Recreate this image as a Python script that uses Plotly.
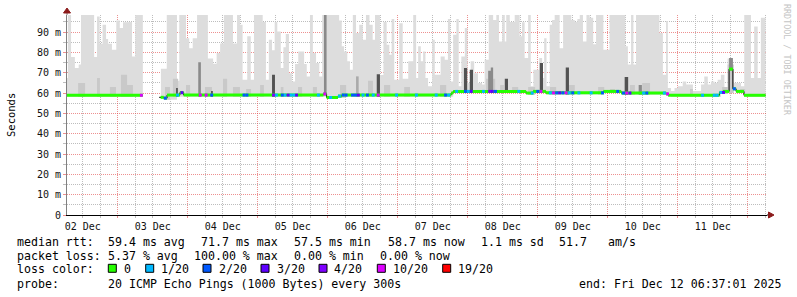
import plotly.graph_objects as go
from datetime import datetime, timedelta

START = datetime(2025, 12, 2, 6, 37, 1)
END = datetime(2025, 12, 12, 6, 37, 1)
DATA_END_H = 239.5

# ---- smoke envelope (slowest ping), segment start in hours after START ----
smoke_h = [0.0,0.3,1.4,2.7,4.0,4.8,9.3,10.3,11.2,12.2,
           13.4,14.1,15.4,16.9,18.1,19.2,20.6,22.3,23.4,26.0,
           32.2,34.2,37.7,38.5,40.8,41.9,43.1,44.6,48.3,50.1,
           51.3,52.5,53.8,56.9,58.3,59.3,60.2,61.8,63.0,64.1,
           67.1,68.2,69.2,70.3,71.2,72.1,73.3,74.2,75.0,76.1,
           77.1,78.2,79.3,81.3,82.2,83.3,84.3,85.4,86.5,87.5,
           93.3,94.2,95.0,96.1,97.0,98.0,99.1,100.2,101.4,102.5,
           103.7,104.8,105.6,107.3,108.5,109.6,110.5,111.3,112.2,113.9,
           115.1,117.0,118.7,119.7,120.4,121.3,122.1,122.9,123.8,125.2,
           126.1,128.1,129.5,130.6,131.4,132.4,133.5,134.3,135.2,136.4,
           137.3,138.4,139.6,140.9,142.3,143.2,144.6,146.1,147.2,148.1,
           149.2,150.1,150.6,151.8,153.5,155.2,156.0,156.9,158.1,159.0,
           159.9,161.9,162.9,163.6,164.4,165.5,166.3,167.2,168.9,170.1,
           172.9,174.1,175.0,175.8,176.9,178.1,179.2,180.4,181.4,183.9,
           186.0,191.4,192.3,193.4,194.2,195.1,203.1,204.3,205.4,206.0,
           207.1,208.3,209.4,211.1,212.3,214.6,217.4,218.5,219.7,220.8,
           222.0,223.1,224.2,225.4,226.5,228.3,231.1,232.2,234.5,235.6,
           236.8,237.9]
smoke_top = [67.4,98.5,77.7,72.3,74,98.5,77.7,97.7,84.3,93.6,
             86.6,84.3,81.3,95.7,92,94.8,95,78,98.5,None,
             72,98.5,66,98.5,87,82,87,98.5,77,74.4,
             79.7,84.4,98.5,84.4,98.5,93.6,66.6,87.9,66.6,98.5,
             95,66.6,86.2,81,95,90.3,72.3,82.5,89,69.8,
             65.7,74.3,80.5,74.3,68.2,98.5,79.7,74.8,68.2,98.5,
             95.7,83,80.5,75.6,71.5,98.5,89.5,93.6,86.2,98.5,
             93.6,86.2,98.5,68.9,95,83.8,78.9,96.4,66.6,94.4,
             67,75.6,98.5,67.4,83,75.6,80.5,67.4,63.3,86.2,
             69,78,76.4,96.4,65.7,88.7,96.4,63.3,78,92,
             65,75.6,69.8,65,64.2,76.4,98.5,96,98.5,85.4,
             98.5,85.4,98.5,95,98.5,87.9,94.8,77.2,98.5,63.3,
             71.5,77.2,67.4,87,63.3,93.6,96,98.5,82,98.5,
             96,95,96.4,98.5,85.4,98.5,97,84,98.5,81.3,
             98.5,83,74,98.5,74,98.5,89.5,69,95.5,62.5,
             61,62.5,63.3,65.7,64.2,61,64.2,68.2,64.2,65.7,
             65,66.6,69,62.5,77,65,63.3,98.5,67.4,92.8,
             67.4,97]

# denser smoke near the median (start h, end h, top ms)
mid_h0 = [3.8,10.3,14.7,18.5,20.6,33.6,36.3,40.8,47.3,53.5,56.9,61.4,66.2,73.3,79.2,84.3,
          93.6,103.2,108.7,115.6,127.9,143.7,148.5,152.6,158.1,165.6,172.1,182.1,186.2,
          193.0,197.2,213.6,224.6,226.5,230.8]
mid_h1 = [6.2,11.3,16.8,20.6,22.6,35.3,38.1,42.2,49.7,54.9,59.3,63.1,67.5,74.2,80.6,85.7,
          95.7,104.9,110.8,117.6,130.0,146.8,149.8,154.7,160.5,167.7,174.1,184.2,187.9,
          194.7,199.9,214.6,226.6,228.6,232.5]
mid_top = [65,67.4,63,69,64,63,67,64,63,67,63,62,64,63,63,63,
           64,66,64,63,64,67,64,63,63,63,64,63,62,
           64,65,62,63,74,62]

# dark smoke columns (start h, end h, top ms, density class)
spike_h0 = [37.4,45.0,49.4,70.3,88.1,99.1,106.2,136.1,138.1,144.4,145.3,150.1,162.1,171.0,191.2,196.0,227.0]
spike_h1 = [38.0,45.9,50.0,71.3,89.0,100.0,107.3,137.2,139.2,145.3,146.1,151.2,163.2,172.1,192.4,197.1,228.3]
spike_top = [62.5,75.2,61,69,98.5,68.2,69.3,72.3,71.5,71,72.6,67,74.8,72.6,67.9,64,77.2]
spike_kind = ['dark','medium','dark','dark','medium','light','dark','dark','dark','medium','medium',
              'dark','dark','dark','dark','medium','medium']

# ---- median rtt (ms), segment start in hours ----
median_h = [0.0,26.0,31.6,33.2,34.3,38.7,40.0,87.9,89.0,92.9,94.2,131.7,132.4,157.4,159.8,
            164.2,183.9,190.0,205.4,206.1,223.7,224.9,227.0,228.3,229.4,232.1]
median_ms = [58.9,None,57.9,57.5,59.0,60.2,59.0,59.6,57.8,58.5,59.0,60.0,60.8,60.0,60.8,
             60.1,60.8,60.0,59.6,58.9,60.3,60.8,71.8,62.1,60.8,58.9]

# ---- packet loss (pings lost out of 20), hour of bin ----
loss_h = [25.0,33.2,37.4,38.9,45.2,47.2,49.1,60.2,61.2,70.3,71.3,73.3,74.2,75.3,76.2,77.2,78.2,
          85.7,87.9,89.9,92.9,94.2,95.2,97.4,98.4,99.4,101.0,102.5,104.5,106.2,112.5,119.3,
          126.1,129.3,130.4,133.1,136.1,137.1,138.1,142.3,144.4,145.3,146.4,154.4,159.0,160.9,
          162.0,165.2,166.3,167.4,168.4,169.5,170.6,171.7,172.9,175.0,179.2,183.1,188.3,190.3,
          191.4,192.5,197.2,198.3,204.3,205.4,217.4,221.4,222.4,223.7,224.6,228.3]
loss_n = [10,2,1,3,10,10,2,2,2,4,1,2,1,3,1,1,3,
          1,10,1,1,2,2,2,2,3,1,2,1,10,1,1,
          1,2,1,1,2,1,3,1,4,3,2,1,1,2,
          10,1,10,2,3,2,10,1,2,1,1,2,2,2,
          10,3,1,2,1,10,1,1,1,1,3,2]

loss_labels = ['0','1/20','2/20','3/20','4/20','10/20','19/20']
loss_levels = [0,1,2,3,4,10,19]
loss_colors = ['#26ff00','#00b8ff','#0059ff','#5e00ff','#7e00ff','#dd00ff','#ff0000']

rtt_legend = ['median rtt:','59.4 ms avg','71.7 ms max','57.5 ms min','58.7 ms now','1.1 ms sd','51.7','am/s']
loss_legend = ['packet loss:','5.37 % avg','100.00 % max','0.00 % min','0.00 % now']
probe_legend = ['probe:','20 ICMP Echo Pings (1000 Bytes) every 300s','end: Fri Dec 12 06:37:01 2025']

# ---------------------------------------------------------------------------
def T(h):
    return START + timedelta(hours=h)

def median_at(h):
    v = None
    for s, m in zip(median_h, median_ms):
        if s <= h + 1e-9:
            v = m
    return v

def loss_color(n):
    c = loss_colors[0]
    for lv, col in zip(loss_levels, loss_colors):
        if n >= lv:
            c = col
    return c

fig = go.Figure()

# main smoke polygons (one per contiguous run)
segs = []
for i, (s, top) in enumerate(zip(smoke_h, smoke_top)):
    e = smoke_h[i + 1] if i + 1 < len(smoke_h) else DATA_END_H
    segs.append((s, e, top))
runs, cur = [], []
for s, e, top in segs:
    if top is None:
        if cur:
            runs.append(cur)
        cur = []
    else:
        cur.append((s, e, top))
if cur:
    runs.append(cur)
px, py = [], []
for run in runs:
    for s, e, top in run:
        px += [T(s), T(e)]
        py += [top, top]
    for s, e, top in reversed(run):
        b = (median_at(s) or 59) - 0.8
        px += [T(e), T(s)]
        py += [b, b]
    px.append(None); py.append(None)
fig.add_trace(go.Scatter(x=px, y=py, fill='toself', fillcolor='#dddddd', mode='lines',
                         line=dict(width=0, color='#dddddd'), hoverinfo='skip', showlegend=False))

def rect_trace(h0s, h1s, tops, color):
    xs, ys = [], []
    for a, b, top in zip(h0s, h1s, tops):
        base = (median_at(a) or 59) - 0.8
        xs += [T(a), T(b), T(b), T(a), T(a), None]
        ys += [base, base, top, top, base, None]
    return go.Scatter(x=xs, y=ys, fill='toself', fillcolor=color, mode='lines',
                      line=dict(width=0, color=color), hoverinfo='skip', showlegend=False)

fig.add_trace(rect_trace(mid_h0, mid_h1, mid_top, '#c9c9c9'))
shade = {'light': '#aaaaaa', 'medium': '#8a8a8a', 'dark': '#525252'}
for kind in ['light', 'medium', 'dark']:
    idx = [i for i, k in enumerate(spike_kind) if k == kind]
    fig.add_trace(rect_trace([spike_h0[i] for i in idx], [spike_h1[i] for i in idx],
                             [spike_top[i] for i in idx], shade[kind]))

# median: thin black connector line
bx, by = [], []
for i, (s, m) in enumerate(zip(median_h, median_ms)):
    e = median_h[i + 1] if i + 1 < len(median_h) else DATA_END_H
    if m is None:
        bx.append(None); by.append(None)
        continue
    bx += [T(s), T(e)]
    by += [m, m]
fig.add_trace(go.Scatter(x=bx, y=by, mode='lines', line=dict(color='#000000', width=1),
                         hoverinfo='skip', showlegend=False))
# median: green (no loss) thick segments
gx, gy = [], []
for i, (s, m) in enumerate(zip(median_h, median_ms)):
    e = median_h[i + 1] if i + 1 < len(median_h) else DATA_END_H
    if m is None:
        continue
    if s == 31.6:
        s = 32.1
    gx += [T(s), T(e), None]
    gy += [m, m, None]
fig.add_trace(go.Scatter(x=gx, y=gy, mode='lines', line=dict(color=loss_colors[0], width=3),
                         hoverinfo='skip', showlegend=False))
# loss-coloured segments
for col in loss_colors[1:]:
    lx, ly = [], []
    for h, n in zip(loss_h, loss_n):
        if loss_color(n) != col:
            continue
        m = median_at(h)
        lx += [T(h), T(h + 1.0), None]
        ly += [m, m, None]
    if lx:
        fig.add_trace(go.Scatter(x=lx, y=ly, mode='lines', line=dict(color=col, width=3),
                                 hoverinfo='skip', showlegend=False))

# ---------------------------------------------------------------------------
L, R, TOP, B = 67, 30, 15, 82
W, H = 797, 297
PW, PH = W - L - R, H - TOP - B

def pxx(x):
    return (x - L) / PW

def pyy(y):
    return (H - B - y) / PH

MONO = 'DejaVu Sans Mono'
red_grid = 'rgba(225,70,70,0.6)'
grey_grid = '#bdbdbd'

yvals = [0, 10, 20, 30, 40, 50, 60, 70, 80, 90]
ytext = ['0'] + ['%d m' % v for v in yvals[1:]]

fig.update_layout(
    width=W, height=H, margin=dict(l=L, r=R, t=TOP, b=B),
    paper_bgcolor='#ffffff', plot_bgcolor='#ffffff', showlegend=False,
    xaxis=dict(type='date', range=[START, END], tick0='2025-12-02', dtick=86400000,
               tickformat='%d %b', ticklabelmode='period',
               showgrid=True, gridcolor=red_grid, griddash='1px,1px', gridwidth=1,
               showline=True, linecolor='#000000', linewidth=1, zeroline=False,
               ticks='outside', ticklen=2, tickcolor=red_grid,
               tickfont=dict(family=MONO, size=10, color='#111111'),
               minor=dict(dtick=21600000, tick0='2025-12-02', showgrid=True,
                          gridcolor=grey_grid, griddash='1px,1px', ticks='outside',
                          ticklen=2, tickcolor=grey_grid),
               fixedrange=True),
    yaxis=dict(range=[0, 98.4], tickmode='array', tickvals=yvals, ticktext=ytext,
               showgrid=True, gridcolor=red_grid, griddash='1px,1px', gridwidth=1,
               showline=True, linecolor='#808080', linewidth=1, zeroline=False,
               ticks='outside', ticklen=3, tickcolor=red_grid,
               tickfont=dict(family=MONO, size=10, color='#111111'),
               minor=dict(tickmode='array', tickvals=[5, 15, 25, 35, 45, 55, 65, 75, 85, 95],
                          showgrid=True, gridcolor=grey_grid, griddash='1px,1px',
                          ticks='outside', ticklen=3, tickcolor=grey_grid),
               fixedrange=True),
)

shapes = []
dark_red = '#8b1a1a'
# y-axis extension + arrow
shapes.append(dict(type='line', xref='paper', yref='paper', x0=pxx(67), x1=pxx(67),
                   y0=pyy(15), y1=pyy(12), line=dict(color='#808080', width=1)))
shapes.append(dict(type='path', xref='paper', yref='paper', fillcolor=dark_red,
                   line=dict(color=dark_red, width=1),
                   path='M %f,%f L %f,%f L %f,%f Z' % (pxx(67), pyy(8), pxx(63.5), pyy(13),
                                                       pxx(70.5), pyy(13))))
# x-axis extension + arrow
shapes.append(dict(type='line', xref='paper', yref='paper', x0=pxx(767), x1=pxx(769),
                   y0=pyy(215), y1=pyy(215), line=dict(color='#000000', width=1)))
shapes.append(dict(type='path', xref='paper', yref='paper', fillcolor=dark_red,
                   line=dict(color=dark_red, width=1),
                   path='M %f,%f L %f,%f L %f,%f Z' % (pxx(774), pyy(215), pxx(768.5), pyy(212),
                                                       pxx(768.5), pyy(218))))

annotations = []

def label(x, y, text, size=11.6, color='#000000', angle=0, anchor='left'):
    annotations.append(dict(xref='paper', yref='paper', x=pxx(x), y=pyy(y), text=text,
                            showarrow=False, xanchor=anchor, yanchor='middle', textangle=angle,
                            borderpad=0, font=dict(family=MONO, size=size, color=color)))

label(11, 115, 'Seconds', size=10.5, anchor='center', angle=-90)
label(787, 60, 'RRDTOOL / TOBI OETIKER', size=8.4, color='#c4c4c4', anchor='center', angle=90)

row1_x = [16, 107, 200, 293, 386.7, 480, 558, 607]
for x, t in zip(row1_x, rtt_legend):
    label(x, 241.5, t)
row2_x = [16, 107, 193.3, 293.3, 379.3]
for x, t in zip(row2_x, loss_legend):
    label(x, 255.5, t)
label(16, 269, 'loss color:')
sw_x = [108.3, 145.7, 203, 261, 319, 377.3, 442.7]
txt_x = [123, 160, 218.3, 276, 333.3, 391.5, 456.7]
for sx, tx, lab, col in zip(sw_x, txt_x, loss_labels, loss_colors):
    shapes.append(dict(type='rect', xref='paper', yref='paper', x0=pxx(sx), x1=pxx(sx + 8),
                       y0=pyy(272.3), y1=pyy(264.3), fillcolor=col,
                       line=dict(color='#000000', width=1)))
    label(tx, 269, lab)
row4_x = [16, 107, 578.3]
for x, t in zip(row4_x, probe_legend):
    label(x, 283.5, t)

fig.update_layout(shapes=shapes, annotations=annotations)
fig.write_html('out.html')
